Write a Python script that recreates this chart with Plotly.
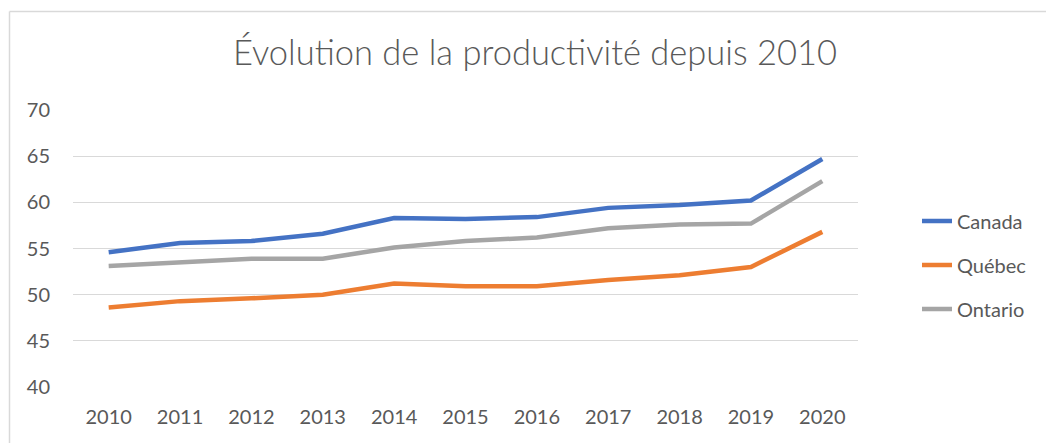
import plotly.graph_objects as go

years = ["2010", "2011", "2012", "2013", "2014", "2015", "2016", "2017", "2018", "2019", "2020"]
canada = [54.6, 55.6, 55.8, 56.6, 58.3, 58.2, 58.4, 59.4, 59.7, 60.2, 64.7]
quebec = [48.6, 49.3, 49.6, 50.0, 51.2, 50.9, 50.9, 51.6, 52.1, 53.0, 56.8]
ontario = [53.1, 53.5, 53.9, 53.9, 55.1, 55.8, 56.2, 57.2, 57.6, 57.7, 62.3]
y_ticks = [40, 45, 50, 55, 60, 65, 70]

series = [("Canada", canada, "#4472C4"), ("Québec", quebec, "#ED7D31"), ("Ontario", ontario, "#A5A5A5")]

FONT = "Lato"
TXT = "#595959"

fig = go.Figure()
for name, vals, col in series:
    fig.add_trace(go.Scatter(x=years, y=vals, name=name, mode="lines",
                             line=dict(color=col, width=4.5), legendgroup=name))

W, H = 1046, 443
ml, mr, mt, mb = 73, 188, 110, 56
pw, ph = W - ml - mr, H - mt - mb

def px_x(p):
    return (p - ml) / pw

def px_y(p):
    return (H - mb - p) / ph

fig.update_layout(
    width=W, height=H,
    margin=dict(l=ml, r=mr, t=mt, b=mb, pad=0),
    paper_bgcolor="white", plot_bgcolor="white",
    title=dict(text="Évolution de la productivité depuis 2010", x=535 / W, xanchor="center",
               y=1 - 53 / H, yanchor="middle", font=dict(family=FONT, size=34.5, color=TXT, weight=300)),
    font=dict(family=FONT, size=20, color=TXT),
    xaxis=dict(type="category", range=[-0.5, 10.5], showgrid=False, showline=False,
               ticks="", tickfont=dict(size=20, color=TXT), zeroline=False, ticklabelstandoff=16),
    yaxis=dict(range=[40, 70], tickvals=y_ticks, showgrid=True, gridcolor="#d9d9d9", gridwidth=1.3,
               ticks="", tickfont=dict(size=20, color=TXT), zeroline=False, showline=False,
               ticklabelstandoff=22),
    legend=dict(x=px_x(917), xanchor="left", y=px_y(265), yanchor="middle",
                font=dict(size=20, color=TXT), tracegroupgap=15, bgcolor="rgba(0,0,0,0)"),
    showlegend=True,
)

fig.add_shape(type="line", xref="paper", yref="paper", x0=px_x(9.5), x1=px_x(1046), y0=px_y(11.5), y1=px_y(11.5),
              line=dict(color="#d9d9d9", width=1.5))
fig.add_shape(type="line", xref="paper", yref="paper", x0=px_x(9.5), x1=px_x(9.5), y0=px_y(11.5), y1=px_y(450),
              line=dict(color="#d9d9d9", width=1.5))

fig.write_html("out.html")
